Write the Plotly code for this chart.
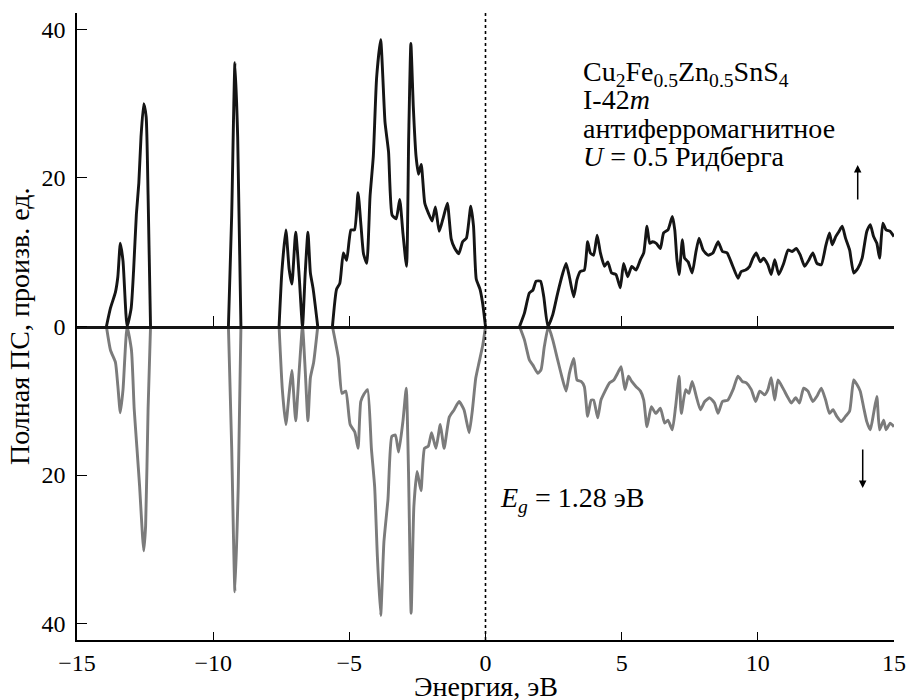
import plotly.graph_objects as go

# ---- data ----
energy_up = [-15, -13.92, -13.77, -13.59, -13.5, -13.41, -13.31, -13.16, -13.01, -12.92, -12.82, -12.73, -12.65, -12.55, -12.46, -12.39, -12.30,
             -9.44, -9.32, -9.2, -9.1, -8.98,
             -7.58, -7.48, -7.33, -7.21, -7.11, -6.97, -6.84, -6.72, -6.62, -6.52, -6.43, -6.33, -6.16,
             -5.62, -5.47, -5.35, -5.22, -5.1, -4.94, -4.81, -4.68, -4.57, -4.48, -4.36, -4.24, -4.12, -4.0, -3.85, -3.69, -3.56, -3.43, -3.28, -3.15, -3.03, -2.9, -2.82, -2.74, -2.65, -2.55, -2.46, -2.36, -2.23, -2.09, -1.96, -1.84, -1.70, -1.54, -1.40, -1.26, -1.14, -0.98, -0.84, -0.70, -0.54, -0.44, -0.34, -0.20, -0.1, 0.0,
             1.25, 1.43, 1.61, 1.74, 1.86, 2.02, 2.14, 2.29, 2.47, 2.65, 2.84, 2.96, 3.08, 3.24, 3.36, 3.48, 3.63, 3.75, 3.85, 3.97, 4.10, 4.22, 4.37, 4.49, 4.63, 4.79, 4.95, 5.07, 5.22, 5.37, 5.53, 5.69, 5.81, 5.93,
             6.03, 6.13, 6.27, 6.42, 6.54, 6.70, 6.86, 6.95, 7.03, 7.11, 7.23, 7.31, 7.44, 7.59, 7.72, 7.84, 7.99, 8.17, 8.35, 8.54, 8.70, 8.87, 9.06, 9.27, 9.39, 9.55, 9.70, 9.82, 9.94, 10.09, 10.21, 10.37, 10.49, 10.62, 10.77, 10.95,
             11.11, 11.26, 11.41, 11.56, 11.72, 11.88, 12.02, 12.17, 12.33, 12.49, 12.63, 12.73, 12.86, 12.98, 13.10, 13.22, 13.37, 13.52, 13.67, 13.83, 14.00, 14.13, 14.25, 14.37, 14.47, 14.59, 14.71, 14.86, 15.0]
dos_up = [0, 0, 2.5, 4.6, 6.7, 11.2, 8.8, 0, 2.5, 7.7, 15.1, 19.3, 25.5, 30.0, 28.2, 17.7, 0,
          0, 15, 35.5, 25.5, 0,
          0, 7.2, 13.0, 7.7, 5.7, 12.7, 6.7, 0, 7.2, 12.7, 7.2, 5.1, 0,
          0, 5.0, 5.8, 9.9, 8.9, 13.0, 13.0, 18.0, 13.5, 9.8, 8.5, 17.5, 22.9, 33.4, 38.6, 27.5, 23.5, 15.0, 14.5, 17.1, 12.5, 8.1, 25.5, 38.1, 29.5, 22.9, 20.5, 21.8, 16.6, 15.2, 14.2, 16.1, 12.8, 14.8, 16.6, 11.8, 10.6, 9.8, 11.4, 11.9, 16.2, 13.5, 6.4, 5.0, 3.0, 0,
          0, 1.8, 4.5, 4.9, 6.1, 6.1, 4.0, 0, 1.6, 4.5, 7.2, 8.5, 6.7, 4.0, 6.3, 7.4, 7.6, 11.4, 9.9, 9.6, 12.3, 9.9, 8.1, 8.7, 7.2, 7.0, 5.2, 8.5, 6.7, 8.1, 7.6, 9.0, 9.9, 13.5,
          11.2, 11.4, 11.2, 10.5, 12.6, 13.0, 14.8, 13.0, 9.0, 7.0, 11.7, 9.2, 8.7, 7.2, 9.9, 11.9, 10.3, 9.6, 9.9, 11.4, 10.1, 9.9, 8.3, 6.5, 7.4, 7.6, 8.1, 9.2, 9.9, 8.7, 9.2, 8.3, 7.0, 9.0, 7.0, 8.5,
          10.3, 10.1, 10.5, 9.6, 8.1, 9.0, 9.9, 8.5, 8.3, 10.8, 12.6, 11.0, 12.1, 12.8, 13.5, 11.9, 10.3, 7.2, 7.8, 9.2, 12.8, 13.7, 12.1, 11.2, 9.2, 13.9, 13.0, 12.8, 12.1]

energy_dn = [-15, -13.92, -13.77, -13.59, -13.5, -13.41, -13.31, -13.16, -13.0, -12.9, -12.8, -12.7, -12.6, -12.55, -12.48, -12.39, -12.30,
             -9.44, -9.32, -9.2, -9.08, -8.98,
             -7.58, -7.46, -7.33, -7.21, -7.11, -6.97, -6.84, -6.72, -6.62, -6.52, -6.43, -6.31, -6.16,
             -5.62, -5.4, -5.27, -5.13, -4.97, -4.8, -4.68, -4.58, -4.46, -4.33, -4.19, -4.07, -3.97, -3.85, -3.73, -3.58, -3.44, -3.31, -3.19, -3.03, -2.91, -2.83, -2.73, -2.63, -2.51, -2.37, -2.24, -2.10, -1.98, -1.82, -1.66, -1.52, -1.33, -1.15, -0.97, -0.79, -0.60, -0.48, -0.36, -0.24, -0.1, 0.0,
             1.25, 1.43, 1.61, 1.74, 1.92, 2.04, 2.16, 2.31, 2.47, 2.65, 2.80, 2.96, 3.08, 3.24, 3.36, 3.51, 3.63, 3.75, 3.88, 3.97, 4.12, 4.24, 4.39, 4.55, 4.71, 4.85, 4.98, 5.12, 5.25, 5.37, 5.53, 5.69, 5.81, 5.93,
             6.09, 6.25, 6.42, 6.58, 6.70, 6.86, 6.98, 7.11, 7.19, 7.35, 7.47, 7.59, 7.74, 7.89, 8.05, 8.23, 8.41, 8.54, 8.70, 8.90, 9.09, 9.27, 9.43, 9.58, 9.76, 9.92, 10.07, 10.25, 10.37, 10.49, 10.62, 10.74, 10.92,
             11.11, 11.23, 11.39, 11.53, 11.68, 11.84, 12.02, 12.17, 12.33, 12.49, 12.63, 12.76, 12.90, 13.06, 13.22, 13.37, 13.52, 13.64, 13.76, 13.88, 14.00, 14.13, 14.25, 14.37, 14.47, 14.62, 14.71, 14.86, 15.0]
dos_dn = [0, 0, -3.2, -4.8, -8.0, -11.6, -8.5, 0, -3.2, -11.1, -16.3, -21.6, -27.9, -30.2, -26.8, -11.1, 0,
          0, -16.3, -35.7, -21.6, 0,
          0, -8.5, -13.2, -9.0, -5.9, -12.7, -5.9, 0, -5.9, -12.7, -6.9, -4.8, 0,
          0, -4.3, -9.0, -8.7, -13.2, -14.2, -16.4, -10.1, -9.1, -8.5, -16.4, -21.6, -31.0, -38.9, -29.0, -23.2, -14.8, -14.6, -16.9, -12.7, -8.3, -19.0, -38.6, -24.2, -19.5, -22.1, -16.4, -16.1, -14.3, -16.4, -13.2, -16.4, -12.2, -11.2, -10.1, -11.2, -14.3, -11.2, -7.0, -4.9, -2.5, 0,
          0, -1.8, -4.5, -5.2, -6.3, -5.8, -2.7, 0, -1.8, -4.5, -6.7, -8.7, -6.3, -4.3, -7.2, -7.4, -8.1, -12.1, -9.9, -9.9, -12.3, -9.9, -8.7, -7.6, -7.2, -6.3, -5.4, -8.5, -6.7, -7.4, -8.1, -8.7, -9.9, -13.5,
          -10.8, -11.7, -11.0, -13.0, -12.6, -13.9, -10.8, -6.7, -11.7, -8.5, -9.0, -7.4, -9.4, -11.2, -10.1, -9.6, -10.3, -11.7, -10.1, -9.9, -8.5, -6.7, -7.4, -7.6, -8.5, -10.1, -8.7, -9.2, -8.5, -6.9, -9.9, -7.2, -8.3,
          -9.6, -10.3, -9.6, -10.3, -8.3, -8.7, -10.1, -9.4, -8.3, -9.9, -11.7, -11.2, -12.1, -12.8, -12.1, -11.4, -7.2, -7.8, -8.7, -10.8, -12.8, -13.9, -11.7, -9.4, -13.9, -12.6, -13.9, -13.0, -13.5]

x_ticks = [-15, -10, -5, 0, 5, 10, 15]
x_ticktext = ["\u221215", "\u221210", "\u22125", "0", "5", "10", "15"]
y_ticks = [-40, -20, 0, 20, 40]
y_ticktext = ["40", "20", "0", "20", "40"]
zero_ticks = [-10, -5, 5, 10, 15]

FONT = "Liberation Serif"
YMAX = 42.2
L, R, T, B = 77, 894.3, 13, 640


def break_flat(xs, ys):
    """Split the curve where it lies flat on zero so that the spline does not swing."""
    ox, oy = [], []
    for i, (x, y) in enumerate(zip(xs, ys)):
        if i > 0 and y == 0 and ys[i - 1] == 0:
            ox.append(None)
            oy.append(None)
        ox.append(x)
        oy.append(y)
    return ox, oy


fig = go.Figure()
xd, yd = break_flat(energy_dn, dos_dn)
fig.add_trace(go.Scatter(x=xd, y=yd, mode="lines", connectgaps=False,
                         line=dict(color="#7b7b7b", width=2.9, shape="spline", smoothing=0.5),
                         showlegend=False, hoverinfo="skip"))
xu, yu = break_flat(energy_up, dos_up)
fig.add_trace(go.Scatter(x=xu, y=yu, mode="lines", connectgaps=False,
                         line=dict(color="#151515", width=2.9, shape="spline", smoothing=0.5),
                         showlegend=False, hoverinfo="skip"))
fig.add_trace(go.Scatter(x=[-15, 15], y=[0, 0], xaxis="x2", mode="lines",
                         line=dict(width=0), showlegend=False, hoverinfo="skip"))

fig.add_shape(type="line", x0=0, x1=0, y0=-YMAX, y1=YMAX, xref="x", yref="y",
              line=dict(color="black", width=1.6, dash="dot"))

fig.update_layout(
    width=906, height=700,
    margin=dict(l=L, r=906 - R, t=T, b=700 - B, autoexpand=False),
    paper_bgcolor="white", plot_bgcolor="white",
    font=dict(family=FONT, size=24, color="black"),
    xaxis=dict(range=[-15, 15], tickvals=x_ticks, ticktext=x_ticktext,
               showline=True, linecolor="black", linewidth=1.6,
               ticks="inside", ticklen=8, tickwidth=1.3, tickcolor="black",
               showgrid=False, zeroline=False, mirror=False,
               tickfont=dict(family=FONT, size=24)),
    xaxis2=dict(range=[-15, 15], overlaying="x", anchor="free", position=0.5,
                side="bottom", tickvals=zero_ticks, showticklabels=False,
                showline=True, linecolor="#151515", linewidth=2.8,
                ticks="inside", ticklen=10, tickwidth=1.3, tickcolor="black",
                showgrid=False, zeroline=False, layer="above traces"),
    yaxis=dict(range=[-YMAX, YMAX], tickvals=y_ticks, ticktext=y_ticktext,
               showline=True, linecolor="black", linewidth=1.6,
               ticks="inside", ticklen=10, tickwidth=1.3, tickcolor="black",
               showgrid=False, zeroline=False,
               ticklabelstandoff=5,
               tickfont=dict(family=FONT, size=24)),
)


def px2paper(px, py):
    return (px - L) / (R - L), (B - py) / (B - T)


TXT = 28
# axis titles
xp, yp = px2paper(485.7, 686)
fig.add_annotation(x=xp, y=yp, xref="paper", yref="paper", text="Энергия, эВ",
                   showarrow=False, xanchor="center", yanchor="middle",
                   font=dict(family=FONT, size=TXT, color="black"))
xp, yp = px2paper(19, 326)
fig.add_annotation(x=xp, y=yp, xref="paper", yref="paper", text="Полная ПС, произв. ед.",
                   showarrow=False, xanchor="center", yanchor="middle", textangle=-90,
                   font=dict(family=FONT, size=TXT, color="black"))

info_lines = ["Cu<sub>2</sub>Fe<sub>0.5</sub>Zn<sub>0.5</sub>SnS<sub>4</sub>",
              "I-42<i>m</i>",
              "антиферромагнитное",
              "<i>U</i> = 0.5 Ридберга"]
info_y = [73, 100, 128, 156]
for txt, py in zip(info_lines, info_y):
    xp, yp = px2paper(581, py)
    fig.add_annotation(x=xp, y=yp, xref="paper", yref="paper", text=txt,
                       showarrow=False, xanchor="left", yanchor="middle",
                       font=dict(family=FONT, size=TXT, color="black"))

xp, yp = px2paper(498, 499)
fig.add_annotation(x=xp, y=yp, xref="paper", yref="paper",
                   text="<i>E<sub>g</sub></i> = 1.28 эВ", showarrow=False,
                   xanchor="left", yanchor="middle",
                   font=dict(family=FONT, size=TXT, color="black"))

# spin arrows
xp, yp = px2paper(858, 165)
fig.add_annotation(x=xp, y=yp, xref="paper", yref="paper", text="", showarrow=True,
                   ax=0, ay=36, arrowhead=2, arrowsize=1, arrowwidth=1.5, arrowcolor="black")
xp, yp = px2paper(863, 488)
fig.add_annotation(x=xp, y=yp, xref="paper", yref="paper", text="", showarrow=True,
                   ax=0, ay=-40, arrowhead=2, arrowsize=1, arrowwidth=1.5, arrowcolor="black")

fig.write_html("out.html", config={"displayModeBar": False},
               post_script="document.body.style.margin='0';document.body.style.overflow='hidden';")
